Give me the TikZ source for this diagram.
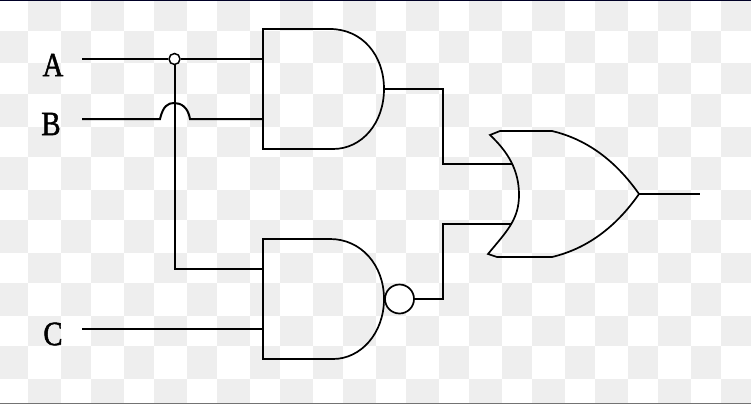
\documentclass[tikz,border=0pt]{standalone}
\usepackage{fontspec}
\setmainfont{Liberation Serif}
\newfontfamily\labfont[FakeBold=1.5]{Liberation Serif}
\tikzset{
  wire/.style={line width=2pt,black,line join=miter},
  gate/.style={line width=1.7pt,black,line join=miter},
  lab/.style={inner sep=0pt,font=\labfont\fontsize{34}{34}\selectfont,xscale=0.85,text=black},
  ringnode/.style={circle,draw=black,fill=white,inner sep=0pt},
}
\definecolor{chk}{HTML}{EEEEEE}
\begin{document}
\begin{tikzpicture}[x=1pt,y=-1pt]
\useasboundingbox (0,0) rectangle (751,404);
\fill[white] (0,0) rectangle (751,404);
% checkerboard
\begin{scope}
\clip (0,0) rectangle (751,404);
\foreach \k in {-1,...,12} {
  \foreach \r/\ya/\yb in {0/0/31,2/63/94,4/127/157,6/190/220,8/253/283,10/316/346,12/379/404} {
    \fill[chk] ({28+63*\k},\ya) rectangle ({61+63*\k},\yb);
  }
  \foreach \r/\ya/\yb in {1/31/63,3/94/127,5/157/190,7/220/253,9/283/316,11/346/379} {
    \fill[chk] ({61+63*\k},\ya) rectangle ({91+63*\k},\yb);
  }
}
\end{scope}
\fill[black!85!blue] (0,0) rectangle (751,1);
\fill[black!55] (0,403) rectangle (751,404);
% labels
\node[lab] (labA) at (53,65) {A};
\node[lab] (labB) at (51,124) {B};
\node[lab] (labC) at (53,334) {C};
% free ends and gate pins
\coordinate (inA) at (82,59);
\coordinate (inB) at (82,119);
\coordinate (inC) at (82,329);
\coordinate (and1a) at (263,59);
\coordinate (and1b) at (263,119);
\coordinate (and1o) at (384,89);
\coordinate (nand1a) at (263,269);
\coordinate (nand1b) at (263,329);
\coordinate (or1a) at (512,164);
\coordinate (or1b) at (511,224);
\coordinate (or1o) at (639,194);
\coordinate (outY) at (700,194);
\coordinate (humpL) at (160,119);
\coordinate (humpR) at (190,119);
% gates
\draw[wire] (330,29) -- (263,29) -- (263,149) -- (333,149);
\draw[gate] (330,29) .. controls (362,29) and (384,55) .. (and1o) .. controls (384,123) and (362,149) .. (333,149);
\draw[wire] (330,239) -- (263,239) -- (263,359) -- (333,359);
\draw[gate] (330,239) .. controls (361,239) and (384,265) .. (384,299) .. controls (384,333) and (361,359) .. (333,359);
\node[ringnode,line width=1.7pt,minimum size=29pt] (bubble) at (399.5,299) {};
\draw[gate] (or1o) .. controls (618,164) and (590,140) .. (552,131) -- (500,131) -- (490,135)
  .. controls (508,152) and (519,170) .. (519,195)
  .. controls (519,220) and (506,232) .. (488,254) -- (497,257) -- (552,257)
  .. controls (590,248) and (618,224) .. (or1o);
% wires
\node[ringnode,line width=1.5pt,minimum size=11pt] (dot) at (174.5,59) {};
\draw[wire] (inA) -- (dot.west);
\draw[wire] (dot.east) -- (and1a);
\draw[wire] (inB) -- (humpL) .. controls (163,106) and (168,103) .. (174,103) .. controls (181,103) and (188,107) .. (humpR) -- (and1b);
\draw[wire] (dot.south) -- (174.5,269) -- (nand1a);
\draw[wire] (inC) -- (nand1b);
\draw[wire] (and1o) -- (443,89) -- (443,164) -- (or1a);
\draw[wire] (bubble.east) -- (443,299) -- (443,224) -- (or1b);
\draw[wire] (or1o) -- (outY);
\end{tikzpicture}
\end{document}
